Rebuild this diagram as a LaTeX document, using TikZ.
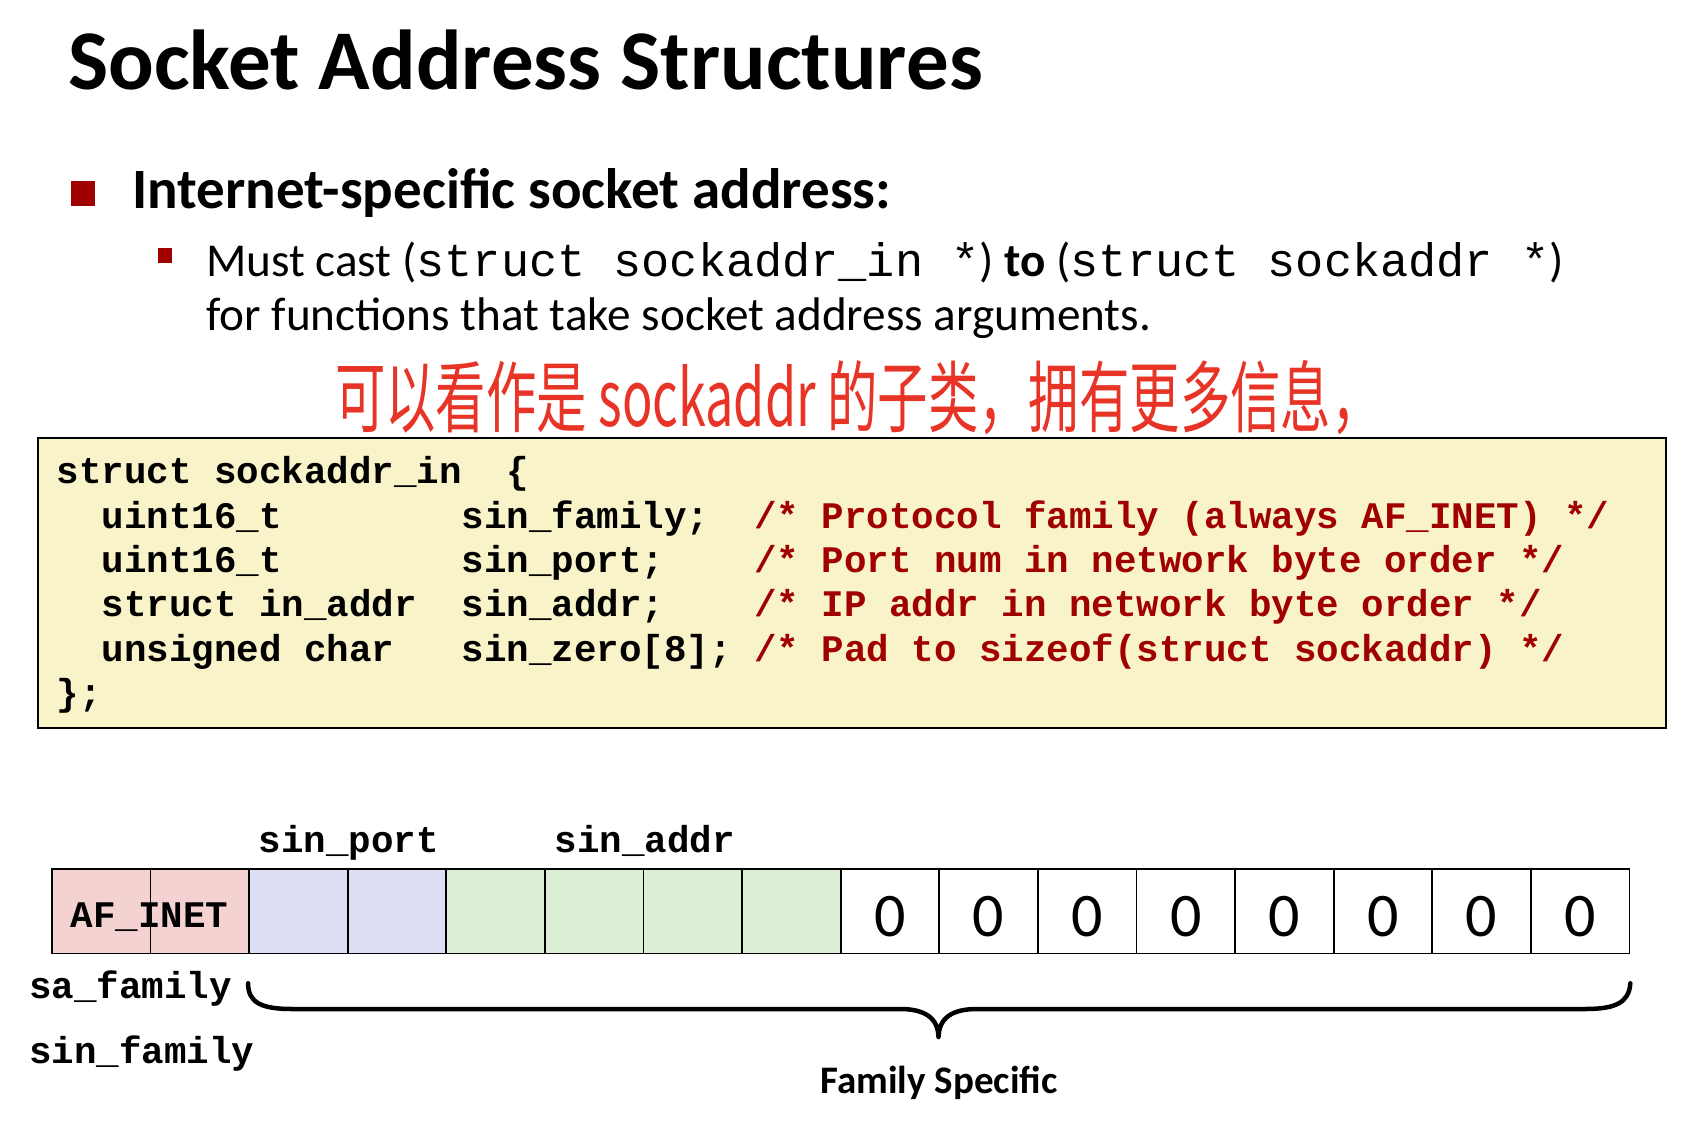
\documentclass[tikz,border=0pt]{standalone}
\usepackage{fontspec}
\setmainfont{Carlito}
\newfontfamily\calfont{Carlito}
\newfontfamily\courfont{Liberation Mono}
\newfontfamily\cjkfont{Noto Sans CJK SC}
\definecolor{darkred}{RGB}{160,0,0}
\definecolor{codebg}{RGB}{248,243,200}
\definecolor{pinkc}{RGB}{244,210,210}
\definecolor{bluec}{RGB}{221,221,243}
\definecolor{greenc}{RGB}{221,240,215}
\definecolor{handred}{RGB}{232,52,38}
\begin{document}
\begin{tikzpicture}[x=1pt,y=-1pt,
  txt/.style={inner sep=0pt, anchor=base west},
  code/.style={txt, font=\courfont\bfseries\fontsize{37.5}{37.5}\selectfont},
  cmt/.style={code, text=darkred},
  lbl/.style={inner sep=0pt, anchor=base, font=\courfont\bfseries\fontsize{37.5}{37.5}\selectfont},
  cell/.style={draw=black, line width=1.8pt, minimum width=98.6pt, minimum height=84.5pt, inner sep=0pt, anchor=north west},
  zero/.style={inner sep=0pt, anchor=base, font=\calfont\fontsize{62}{62}\selectfont},
  bulletsq/.style={fill=darkred, draw=none, inner sep=0pt, anchor=north west}
]
\useasboundingbox[fill=white] (0,0) rectangle (1697,1126);

% title
\node[txt, font=\calfont\bfseries\fontsize{85}{85}\selectfont] (title) at (68,90) {Socket Address Structures};

% bullet 1
\node[bulletsq, minimum width=24pt, minimum height=25pt] (b1) at (71,181) {};
\node[txt, font=\calfont\bfseries\fontsize{57}{57}\selectfont] (t1) at (132,208) {Internet-specific socket address:};

% bullet 2
\node[bulletsq, minimum width=14pt, minimum height=15pt] (b2) at (158,248) {};
\node[txt, font=\calfont\fontsize{47.2}{47.2}\selectfont] (t2a) at (206,276)
  {Must cast ({\courfont\fontsize{46.9}{46.9}\selectfont struct sockaddr\_in *}) \textbf{to} ({\courfont\fontsize{46.9}{46.9}\selectfont struct sockaddr *})};
\node[txt, font=\calfont\fontsize{47.2}{47.2}\selectfont] (t2b) at (206,330)
  {for functions that take socket address arguments.};

% code box
\node[draw=black, line width=2pt, fill=codebg, minimum width=1628pt, minimum height=290pt, inner sep=0pt, anchor=north west] (codebox) at (37,437) {};

% handwriting annotation
\node[inner sep=0pt, anchor=west, text=handred, xscale=0.84, yscale=1.3, font=\cjkfont\fontsize{60}{60}\selectfont] (note) at (335,398)
  {可以看作是 sockaddr 的子类，拥有更多信息，};

% code lines
\node[code] (l1) at (56.3,483.8) {struct sockaddr\_in~~\{};
\node[code] (l2a) at (101.3,528.2) {uint16\_t};
\node[code] (l2b) at (461.3,528.2) {sin\_family;};
\node[cmt]  (l2c) at (753.8,528.2) {/* Protocol family (always AF\_INET) */};
\node[code] (l3a) at (101.3,572.5) {uint16\_t};
\node[code] (l3b) at (461.3,572.5) {sin\_port;};
\node[cmt]  (l3c) at (753.8,572.5) {/* Port num in network byte order */};
\node[code] (l4a) at (101.3,616.9) {struct in\_addr};
\node[code] (l4b) at (461.3,616.9) {sin\_addr;};
\node[cmt]  (l4c) at (753.8,616.9) {/* IP addr in network byte order */};
\node[code] (l5a) at (101.3,661.3) {unsigned char};
\node[code] (l5b) at (461.3,661.3) {sin\_zero[8];};
\node[cmt]  (l5c) at (753.8,661.3) {/* Pad to sizeof(struct sockaddr) */};
\node[code] (l6) at (56.3,705.7) {\};};

% cells
\foreach \i/\col in {1/pinkc,2/pinkc,3/bluec,4/bluec,5/greenc,6/greenc,7/greenc,8/greenc,
  9/white,10/white,11/white,12/white,13/white,14/white,15/white,16/white}{
  \node[cell, fill=\col] (c\i) at ({50.9+(\i-1)*98.6},868) {};
}
\foreach \i in {9,...,16}{
  \node[zero] (z\i) at ([yshift=-25pt]c\i.center) {0};
}
\node[lbl] (afinet) at (149.5,927.5) {AF\_INET};
\node[lbl] (sinport) at (349,852) {sin\_port};
\node[lbl] (sinaddr) at (645,852) {sin\_addr};
\node[code] (safam) at (29,998) {sa\_family};
\node[code] (sinfam) at (29,1063) {sin\_family};

% brace
\coordinate (bl) at ([yshift=-29pt]c3.south west);
\coordinate (br) at ([yshift=-29pt]c16.south east);
\coordinate (tip) at (938.5,1037);
\draw[line width=4.5pt, line cap=round, line join=round]
  (bl) .. controls (248,1003) and (262,1009) .. (292,1009) -- (900,1009)
  .. controls (925,1009) and (938,1018) .. (tip)
  .. controls (939,1018) and (952,1009) .. (977,1009) -- (1585,1009)
  .. controls (1615,1009) and (1629,1003) .. (br);
\node[inner sep=0pt, anchor=base, font=\calfont\bfseries\fontsize{39}{39}\selectfont] (famspec) at (939,1093) {Family Specific};
\end{tikzpicture}
\end{document}
